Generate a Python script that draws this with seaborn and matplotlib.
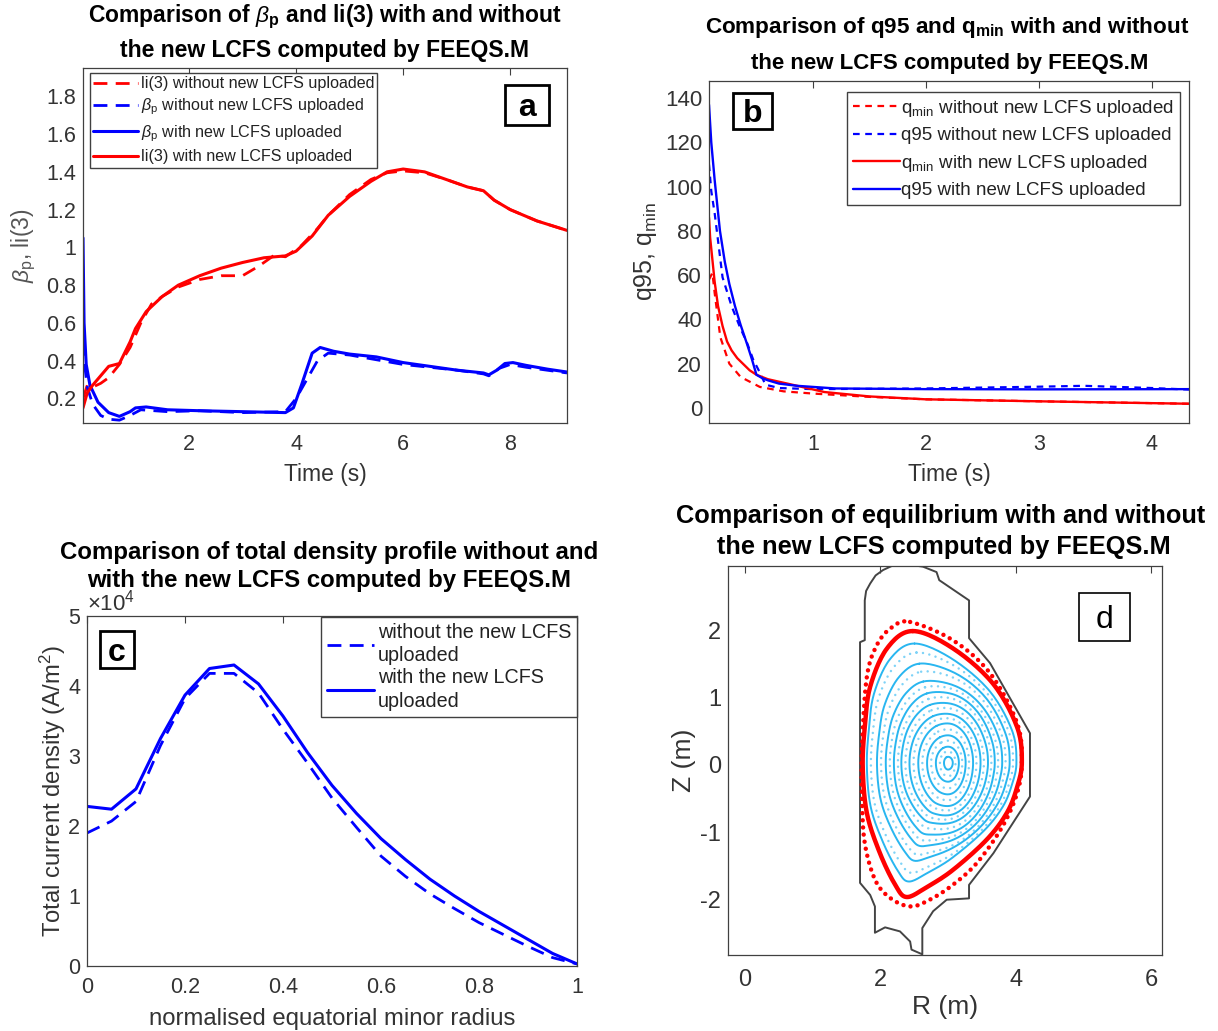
import numpy as np
import matplotlib
matplotlib.use('Agg')
import matplotlib.pyplot as plt
from matplotlib.patches import Rectangle
import seaborn as sns

# panel a - li(3) and beta_p vs time
li_new_t = [0.02, 0.1, 0.2, 0.35, 0.5, 0.7, 0.9, 1.0, 1.2, 1.5, 1.8, 2.2, 2.6, 3, 3.4, 3.8, 4.0, 4.3, 4.6, 5, 5.4, 5.7, 6, 6.4, 6.8, 7.2, 7.5, 7.7, 8, 8.5, 9.06]
li_new = [0.15, 0.23, 0.27, 0.32, 0.37, 0.385, 0.5, 0.57, 0.66, 0.74, 0.80, 0.85, 0.89, 0.92, 0.945, 0.955, 0.98, 1.06, 1.17, 1.27, 1.35, 1.40, 1.415, 1.40, 1.36, 1.32, 1.30, 1.25, 1.20, 1.14, 1.09]
li_old_t = [0.02, 0.1, 0.2, 0.35, 0.5, 0.7, 0.9, 1.1, 1.3, 1.5, 1.8, 2.2, 2.6, 3, 3.3, 3.6, 3.8, 4.1, 4.4, 4.6, 5, 5.4, 5.7, 6, 6.4, 6.8, 7.2, 7.5, 7.7, 8, 8.5, 9.06]
li_old = [0.2, 0.27, 0.26, 0.28, 0.31, 0.38, 0.47, 0.6, 0.7, 0.74, 0.79, 0.83, 0.85, 0.85, 0.90, 0.96, 0.95, 1.01, 1.10, 1.17, 1.28, 1.36, 1.395, 1.405, 1.395, 1.36, 1.32, 1.30, 1.25, 1.20, 1.14, 1.09]
bp_new_t = [0.02, 0.04, 0.08, 0.15, 0.3, 0.5, 0.7, 0.9, 1.0, 1.2, 1.6, 2.2, 3, 3.8, 3.95, 4.1, 4.3, 4.45, 4.7, 5, 5.5, 6, 6.5, 7, 7.5, 7.6, 7.75, 7.9, 8.05, 8.3, 8.7, 9.06]
bp_new = [1.05, 0.6, 0.38, 0.27, 0.18, 0.125, 0.105, 0.13, 0.15, 0.155, 0.14, 0.135, 0.13, 0.125, 0.15, 0.27, 0.44, 0.47, 0.45, 0.435, 0.42, 0.39, 0.37, 0.35, 0.335, 0.325, 0.35, 0.385, 0.39, 0.375, 0.355, 0.34]
bp_old_t = [0.02, 0.05, 0.1, 0.2, 0.35, 0.5, 0.7, 0.9, 1.1, 1.6, 2.2, 3, 3.8, 4.0, 4.2, 4.4, 4.6, 5, 6, 7, 7.5, 7.6, 7.8, 8, 8.3, 9.06]
bp_old = [0.5, 0.38, 0.26, 0.17, 0.11, 0.09, 0.085, 0.11, 0.14, 0.13, 0.135, 0.125, 0.13, 0.2, 0.3, 0.4, 0.44, 0.43, 0.38, 0.35, 0.33, 0.32, 0.36, 0.38, 0.365, 0.335]

# panel b - q95 and qmin vs time
q95_new_t = [0.08, 0.1, 0.13, 0.177, 0.22, 0.26, 0.31, 0.36, 0.416, 0.46, 0.5, 0.55, 0.6, 0.7, 0.86, 1.2, 2, 3, 4.33]
q95_new = [137, 120, 103, 80, 66, 56, 46, 37.5, 29, 22, 15, 13.5, 12.5, 11, 10, 8.8, 8.5, 8.4, 8.5]
q95_old_t = [0.08, 0.1, 0.13, 0.2, 0.28, 0.35, 0.42, 0.47, 0.53, 0.58, 0.7, 1, 2, 3, 3.4, 4, 4.33]
q95_old = [110, 98, 88, 59, 46, 37, 29, 22, 16, 10.5, 9, 8.5, 8.8, 9.6, 10, 9, 8.3]
qmin_new_t = [0.08, 0.09, 0.11, 0.13, 0.16, 0.2, 0.24, 0.28, 0.33, 0.38, 0.44, 0.5, 0.6, 0.86, 1.1, 1.5, 2, 3, 4.33]
qmin_new = [86, 77, 67, 57, 46, 37, 30, 26, 22.5, 20, 17, 15, 13, 10, 7.2, 5.2, 3.9, 3, 1.9]
qmin_old_t = [0.08, 0.11, 0.13, 0.18, 0.26, 0.36, 0.53, 0.74, 1, 1.5, 2, 3, 4.33]
qmin_old = [58, 61, 52, 32, 20, 14, 9.5, 7.5, 6.5, 5, 3.9, 3, 1.9]

# panel c - current density profile
rho = [0, 0.05, 0.1, 0.15, 0.2, 0.25, 0.3, 0.35, 0.4, 0.45, 0.5, 0.55, 0.6, 0.65, 0.7, 0.75, 0.8, 0.85, 0.9, 0.95, 1]
j_new = [2.28e4, 2.24e4, 2.53e4, 3.25e4, 3.87e4, 4.25e4, 4.30e4, 4.03e4, 3.57e4, 3.05e4, 2.58e4, 2.18e4, 1.82e4, 1.52e4, 1.24e4, 1.0e4, 0.78e4, 0.58e4, 0.38e4, 0.18e4, 0.03e4]
j_old = [1.9e4, 2.07e4, 2.35e4, 3.15e4, 3.82e4, 4.18e4, 4.18e4, 3.9e4, 3.38e4, 2.9e4, 2.4e4, 1.98e4, 1.57e4, 1.28e4, 1.03e4, 0.82e4, 0.62e4, 0.45e4, 0.28e4, 0.12e4, 0.03e4]

# panel d - vessel and plasma boundaries (clockwise from top)
wall_r = [2.36, 2.63, 2.83, 2.87, 3.31, 3.31, 3.62, 4.21, 4.21, 3.67, 3.31, 3.31, 2.98, 2.78, 2.62, 2.62, 2.46, 2.44, 2.29, 2.07, 1.92, 1.92, 1.85, 1.70, 1.70, 1.77, 1.77, 1.79, 1.85, 1.93, 2.04, 2.19, 2.36]
wall_z = [2.98, 2.94, 2.86, 2.74, 2.44, 1.88, 1.51, 0.47, -0.47, -1.31, -1.78, -1.98, -2.0, -2.17, -2.42, -2.81, -2.74, -2.62, -2.47, -2.41, -2.49, -2.10, -1.93, -1.75, 1.82, 1.85, 2.44, 2.58, 2.69, 2.81, 2.89, 2.96, 2.98]
lcfs_new_r = [2.48, 3.07, 3.66, 4.02, 4.09, 4.02, 3.87, 3.57, 3.07, 2.69, 2.39, 2.22, 1.99, 1.80, 1.74, 1.77, 1.85, 2.10]
lcfs_new_z = [1.985, 1.73, 1.21, 0.56, 0.04, -0.33, -0.71, -1.11, -1.56, -1.81, -1.96, -1.78, -1.30, -0.71, -0.03, 0.56, 1.16, 1.73]
lcfs_old_r = [2.44, 3.07, 3.62, 4.02, 4.09, 4.02, 3.80, 3.43, 3.07, 2.73, 2.44, 2.14, 1.92, 1.77, 1.73, 1.73, 1.80, 1.95, 2.17]
lcfs_old_z = [2.12, 1.85, 1.36, 0.62, 0.04, -0.42, -0.92, -1.45, -1.78, -2.0, -2.10, -1.97, -1.70, -1.16, -0.52, 0.27, 1.30, 1.78, 2.04]

# flux surfaces, extents
axis_r = 3.0
axis_z = 0.03
new_in = [1.80, 1.95, 2.08, 2.20, 2.31, 2.43, 2.56, 2.69, 2.82, 2.94]
new_out = [4.01, 3.91, 3.80, 3.69, 3.59, 3.48, 3.37, 3.26, 3.16, 3.07]
new_top = [1.80, 1.53, 1.28, 1.11, 0.94, 0.77, 0.62, 0.44, 0.27, 0.12]
new_bot = [-1.73, -1.46, -1.26, -1.09, -0.91, -0.77, -0.62, -0.44, -0.25, -0.07]
old_in = [1.86, 2.01, 2.14, 2.26, 2.37, 2.49, 2.62, 2.75, 2.88]
old_out = [3.96, 3.85, 3.74, 3.64, 3.53, 3.42, 3.31, 3.21, 3.11]
old_top = [1.68, 1.42, 1.20, 1.03, 0.86, 0.70, 0.53, 0.36, 0.20]
old_bot = [-1.62, -1.38, -1.18, -1.00, -0.84, -0.69, -0.53, -0.35, -0.17]

W, H = 1218, 1031


def px_axes(left, top, right, bottom):
    return fig.add_axes([left / W, 1 - bottom / H, (right - left) / W, (bottom - top) / H])


def title_line(x, y, s, size):
    fig.text(x / W, 1 - y / H, s, ha='center', va='center', fontweight='bold', fontsize=size, color='black')


def tag(left, top, right, bottom, s, weight='bold', lw=2.0):
    # panel letter in a box, placed in figure pixels
    fig.add_artist(Rectangle((left / W, 1 - bottom / H), (right - left) / W, (bottom - top) / H, transform=fig.transFigure,
                             fc='white', ec='black', lw=lw, zorder=6))
    fig.text((left + right) / 2 / W, 1 - (top + bottom) / 2 / H, s, ha='center', va='center_baseline', fontsize=23, fontweight=weight, color='black', zorder=7)


def smooth(r, z, n=14):
    # closed Catmull-Rom through the points
    p = np.column_stack([r, z])
    out = []
    for i in range(len(p)):
        p0, p1, p2, p3 = p[i - 1], p[i], p[(i + 1) % len(p)], p[(i + 2) % len(p)]
        for s in np.linspace(0, 1, n, endpoint=False):
            out.append(0.5 * (2 * p1 + (p2 - p0) * s + (2 * p0 - 5 * p1 + 4 * p2 - p3) * s ** 2 + (3 * p1 - p0 - 3 * p2 + p3) * s ** 3))
    out = np.array(out)
    return np.append(out[:, 0], out[0, 0]), np.append(out[:, 1], out[0, 1])


def surface(rin, rout, ztop, zbot, base_r, base_z):
    # boundary shape, rounder towards the axis, scaled to the read extents
    u = np.where(base_r > axis_r, (base_r - axis_r) / (base_r.max() - axis_r), (base_r - axis_r) / (axis_r - base_r.min()))
    v = np.where(base_z > axis_z, (base_z - axis_z) / (base_z.max() - axis_z), (base_z - axis_z) / (axis_z - base_z.min()))
    th = np.arctan2(v, u)
    w = np.clip((rout - rin) / 2.2, 0, 1) ** 2.5
    bu = w * u + (1 - w) * np.cos(th)
    bv = w * v + (1 - w) * np.sin(th)
    rr = axis_r + np.where(bu > 0, bu * (rout - axis_r), bu * (axis_r - rin))
    zz = axis_z + np.where(bv > 0, bv * (ztop - axis_z), bv * (axis_z - zbot))
    return rr, zz


def draw(ax, x, y, color, style, lw, label=None, **kw):
    sns.lineplot(x=x, y=y, ax=ax, color=color, linestyle=style, linewidth=lw, label=label, estimator=None, sort=False, **kw)


def finish(ax, xpad=8, xlabelpad=6, size=16.5):
    for s in ax.spines.values():
        s.set_color('#404040')
        s.set_linewidth(0.9)
    ax.tick_params(direction='in', length=5, width=0.8, color='#404040', labelcolor='#333333', labelsize=15.5, top=True, right=False, pad=5)
    ax.tick_params(axis='x', pad=xpad)
    ax.set_xlabel(ax.get_xlabel(), fontsize=size, color='#333333', labelpad=xlabelpad)
    ax.set_ylabel(ax.get_ylabel(), fontsize=size, color='#333333', labelpad=3)


sns.set_style('white')
plt.rcParams['font.family'] = ['Liberation Sans', 'DejaVu Sans']
plt.rcParams['mathtext.fontset'] = 'custom'
plt.rcParams['mathtext.rm'] = 'Liberation Sans'
plt.rcParams['mathtext.it'] = 'Liberation Sans:italic'
plt.rcParams['mathtext.bf'] = 'Liberation Sans:bold'
plt.rcParams['mathtext.default'] = 'regular'
plt.rcParams['axes.unicode_minus'] = False

fig = plt.figure(figsize=(W / 100, H / 100), dpi=100)

# a
ax_a = px_axes(83, 68, 567, 423)
draw(ax_a, li_old_t, li_old, 'red', (0, (5, 3)), 2.0, 'li(3) without new LCFS uploaded')
draw(ax_a, bp_old_t, bp_old, 'blue', (0, (5, 3)), 2.0, r'$\mathit{\beta}_{p}$ without new LCFS uploaded')
draw(ax_a, bp_new_t, bp_new, 'blue', '-', 2.2, r'$\mathit{\beta}_{p}$ with new LCFS uploaded')
draw(ax_a, li_new_t, li_new, 'red', '-', 2.2, 'li(3) with new LCFS uploaded')
ax_a.set_xlim(0.02, 9.06)
ax_a.set_ylim(0.07, 1.95)
ax_a.set_xticks([2, 4, 6, 8])
ax_a.set_yticks([0.2, 0.4, 0.6, 0.8, 1, 1.2, 1.4, 1.6, 1.8])
ax_a.set_yticklabels(['0.2', '0.4', '0.6', '0.8', '1', '1.2', '1.4', '1.6', '1.8'])
ax_a.set_xlabel('Time (s)')
ax_a.set_ylabel(r'$\mathit{\beta}_{p}$, li(3)')
finish(ax_a)
ax_a.yaxis.label.set_color('#555555')
ax_a.yaxis.labelpad = 6
ax_a.legend(loc='upper left', bbox_to_anchor=(7 / 484, 1 - 5 / 355), borderaxespad=0, fancybox=False, framealpha=1, edgecolor='#404040',
            fontsize=11.6, handlelength=2.8, handletextpad=0.15, labelspacing=0.35, borderpad=0.2, labelcolor='#222222')
tag(505, 85, 549, 125, 'a')
title_line(325, 17, r'Comparison of $\mathit{\beta}_{\mathbf{p}}$ and li(3) with and without', 16.5)
title_line(325, 50, 'the new LCFS computed by FEEQS.M', 16.5)

# b
ax_b = px_axes(709, 81, 1189, 423)
draw(ax_b, qmin_old_t, qmin_old, 'red', (0, (3, 2.5)), 1.6, r'q$_{min}$ without new LCFS uploaded')
draw(ax_b, q95_old_t, q95_old, 'blue', (0, (3, 2.5)), 1.6, 'q95 without new LCFS uploaded')
draw(ax_b, qmin_new_t, qmin_new, 'red', '-', 1.7, r'q$_{min}$ with new LCFS uploaded')
draw(ax_b, q95_new_t, q95_new, 'blue', '-', 1.7, 'q95 with new LCFS uploaded')
ax_b.set_xlim(0.08, 4.33)
ax_b.set_ylim(-6.8, 147.7)
ax_b.set_xticks([1, 2, 3, 4])
ax_b.set_yticks([0, 20, 40, 60, 80, 100, 120, 140])
ax_b.set_xlabel('Time (s)')
ax_b.set_ylabel(r'q95, q$_{min}$')
finish(ax_b)
ax_b.yaxis.label.set_size(18)
ax_b.tick_params(axis='y', labelsize=16)
ax_b.yaxis.labelpad = 4
ax_b.legend(loc='upper left', bbox_to_anchor=(138 / 480, 1 - 11 / 342), borderaxespad=0, fancybox=False, framealpha=1, edgecolor='#404040',
            fontsize=13.5, handlelength=2.5, handletextpad=0.1, labelspacing=0.45, borderpad=0.3, labelcolor='#222222')
tag(733, 93, 772, 129, 'b')
title_line(947, 28, r'Comparison of q95 and q$_{\mathbf{min}}$ with and without', 16.2)
title_line(950, 63, 'the new LCFS computed by FEEQS.M', 16)

# c
ax_c = px_axes(87, 616, 577, 966)
draw(ax_c, rho, j_old, 'blue', (0, (5, 3)), 2.0, 'without the new LCFS\nuploaded')
draw(ax_c, rho, j_new, 'blue', '-', 2.2, 'with the new LCFS\nuploaded')
ax_c.set_xlim(0, 1)
ax_c.set_ylim(0, 5e4)
ax_c.set_xticks([0, 0.2, 0.4, 0.6, 0.8, 1])
ax_c.set_xticklabels(['0', '0.2', '0.4', '0.6', '0.8', '1'])
ax_c.set_yticks([0, 1e4, 2e4, 3e4, 4e4, 5e4])
ax_c.set_yticklabels(['0', '1', '2', '3', '4', '5'])
ax_c.set_xlabel('normalised equatorial minor radius')
ax_c.set_ylabel(r'Total current density (A/m$^2$)')
finish(ax_c, xpad=8, xlabelpad=7, size=17.2)
ax_c.yaxis.labelpad = 0
ax_c.text(0, 1.0, r'$\times10^4$', transform=ax_c.transAxes, fontsize=16, color='#333333', va='bottom')
leg_c = ax_c.legend(loc='upper left', bbox_to_anchor=(234 / 490, 1 - 1 / 350), borderaxespad=0, fancybox=False, framealpha=1, edgecolor='#404040',
                    fontsize=14.2, handlelength=2.4, handletextpad=0.2, labelspacing=0.15, borderpad=0.3, labelcolor='#222222')
for t in leg_c.get_texts():
    t.set_linespacing(1.3)
tag(100, 631, 134, 668, 'c')
title_line(329, 552, 'Comparison of total density profile without and', 17.3)
title_line(329, 580, 'with the new LCFS computed by FEEQS.M', 17.3)

# d
ax_d = px_axes(728, 566, 1162, 955)
lcfs_r, lcfs_z = smooth(lcfs_new_r, lcfs_new_z)
old_r, old_z = smooth(lcfs_old_r, lcfs_old_z)
draw(ax_d, wall_r, wall_z, '#444444', '-', 1.4)
for a, b, c, e in zip(old_in, old_out, old_top, old_bot):
    rr, zz = surface(a, b, c, e, lcfs_r, lcfs_z)
    draw(ax_d, rr, zz, '#7fd3f7', (0, (0.01, 2.6)), 1.8, dash_capstyle='round')
for a, b, c, e in zip(new_in, new_out, new_top, new_bot):
    rr, zz = surface(a, b, c, e, lcfs_r, lcfs_z)
    draw(ax_d, rr, zz, '#29b6f0', '-', 1.4)
draw(ax_d, old_r, old_z, 'red', (0, (0.01, 1.6)), 3.2, dash_capstyle='round')
draw(ax_d, lcfs_r, lcfs_z, 'red', '-', 3.2)
ax_d.set_xlim(-0.25, 6.16)
ax_d.set_ylim(-2.82, 2.95)
ax_d.set_xticks([0, 2, 4, 6])
ax_d.set_yticks([-2, -1, 0, 1, 2])
ax_d.set_xlabel('R (m)')
ax_d.set_ylabel('Z (m)')
finish(ax_d, xpad=10, xlabelpad=3)
ax_d.tick_params(labelsize=17, right=False)
ax_d.xaxis.label.set_size(19)
ax_d.yaxis.label.set_size(19)
tag(1079, 593, 1130, 641, 'd', weight='normal', lw=1.2)
title_line(941, 516, 'Comparison of equilibrium with and without', 18.3)
title_line(944, 547, 'the new LCFS computed by FEEQS.M', 18.3)

fig.savefig('out.png', dpi=100)
